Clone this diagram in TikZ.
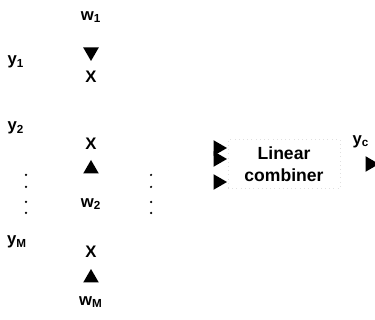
\documentclass[tikz,border=0pt]{standalone}
\usepackage{fontspec}
\setmainfont{Liberation Sans}
\usetikzlibrary{shapes.geometric}
\tikzset{
    lbl/.style={inner sep=0pt, font=\fontsize{9.5}{11}\selectfont\bfseries},
    tip/.style={regular polygon, regular polygon sides=3, fill=black, inner sep=0pt, minimum size=0.36cm},
    vdot/.style={circle, fill=black, inner sep=0pt, minimum size=0.05cm},
    combbox/.style={draw=black!12, dotted, align=center, minimum width=2.24cm, minimum height=0.98cm, font=\fontsize{10}{12.5}\selectfont\bfseries}
}

\begin{document}
\begin{tikzpicture}[x=0.02cm, y=-0.02cm]
    \useasboundingbox (0,0) rectangle (375,320);

    % weights and products
    \node[lbl] (w1) at (91,17) {w\textsubscript{1}};
    \node[tip, rotate=180] (t1) at (91,52) {};
    \node[lbl] (x1) at (91,77) {X};
    \node[lbl] (x2) at (91,144) {X};
    \node[tip] (t2) at (91,169) {};
    \node[lbl] (w2) at (91,204) {w\textsubscript{2}};
    \node[lbl] (xM) at (91,252) {X};
    \node[tip] (tM) at (91,278) {};
    \node[lbl] (wM) at (91,302) {w\textsubscript{M}};

    % inputs
    \node[lbl] (y1) at (16,62) {y\textsubscript{1}};
    \node[lbl] (y2) at (16,128) {y\textsubscript{2}};
    \node[lbl] (yM) at (17,242) {y\textsubscript{M}};

    % vertical dots
    \foreach \yy [count=\i] in {175,187,202,213} {
        \node[vdot] (dl\i) at (26,\yy) {};
        \node[vdot] (dr\i) at (151,\yy) {};
    }

    % combiner
    \node[combbox] (comb) at (284,164) {Linear\\combiner};
    \node[tip, rotate=-90] (c1) at (218,148) {};
    \node[tip, rotate=-90] (c2) at (218,159) {};
    \node[tip, rotate=-90] (c3) at (218,182) {};

    % output
    \node[lbl] (yc) at (361,142) {y\textsubscript{c}};
    \node[tip, rotate=-90] (co) at (370,164) {};
\end{tikzpicture}
\end{document}
